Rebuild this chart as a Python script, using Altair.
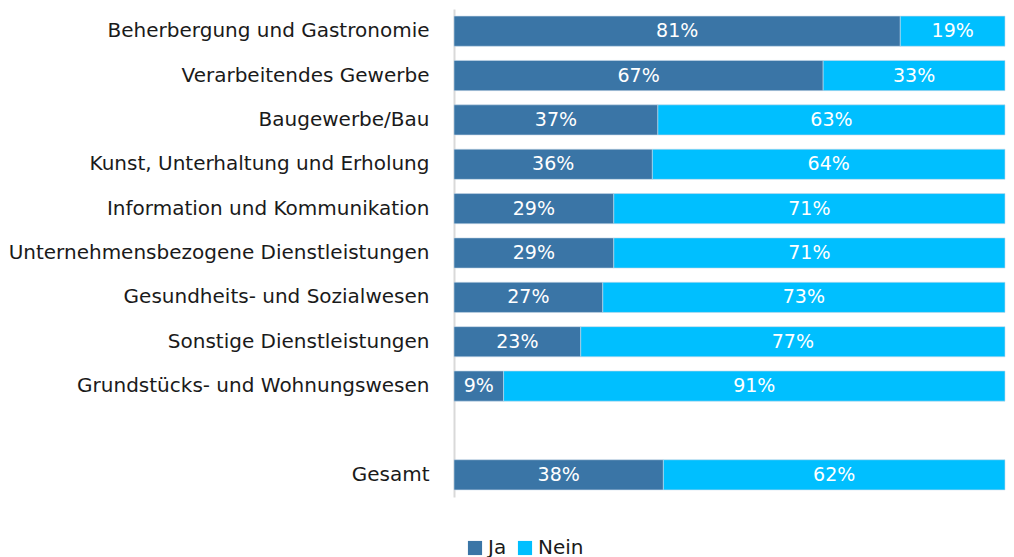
import altair as alt
import pandas as pd

categories = [
    "Beherbergung und Gastronomie",
    "Verarbeitendes Gewerbe",
    "Baugewerbe/Bau",
    "Kunst, Unterhaltung und Erholung",
    "Information und Kommunikation",
    "Unternehmensbezogene Dienstleistungen",
    "Gesundheits- und Sozialwesen",
    "Sonstige Dienstleistungen",
    "Grundstücks- und Wohnungswesen",
    "Gesamt",
]
ja = [81, 67, 37, 36, 29, 29, 27, 23, 9, 38]
nein = [19, 33, 63, 64, 71, 71, 73, 77, 91, 62]
series = ["Ja", "Nein"]
colors = ["#3A75A6", "#00BFFF"]

rows = []
for c, j, n in zip(categories, ja, nein):
    rows.append({"cat": c, "series": "Ja", "start": 0, "end": j, "val": j})
    rows.append({"cat": c, "series": "Nein", "start": j, "end": j + n, "val": n})
df = pd.DataFrame(rows)
df["mid"] = (df["start"] + df["end"]) / 2
df["label"] = df["val"].astype(str) + "%"

domain = categories[:9] + [" "] + categories[9:]

FONT = "DejaVu Sans"
FS = 20

y = alt.Y("cat:N", scale=alt.Scale(domain=domain, paddingInner=0.32, paddingOuter=0.16),
          axis=alt.Axis(title=None, labelFontSize=FS, labelColor="#1a1a1a", labelFont=FONT,
                        ticks=False, labelPadding=25, domainColor="#d9d9d9", domainWidth=2,
                        labelLimit=500))

bars = alt.Chart(df).mark_bar(stroke="#c8d8e8", strokeWidth=0.6).encode(
    y=y,
    x=alt.X("start:Q", scale=alt.Scale(domain=[0, 100], nice=False), axis=None),
    x2="end:Q",
    color=alt.Color("series:N", scale=alt.Scale(domain=series, range=colors),
                    legend=alt.Legend(title=None, orient="none", legendX=11, legendY=529,
                                      direction="horizontal", symbolType="square",
                                      symbolSize=200, symbolStrokeWidth=0,
                                      labelFontSize=FS, labelFont=FONT, labelColor="#1a1a1a",
                                      columnPadding=8, labelOffset=3)),
)

text = alt.Chart(df).mark_text(color="white", fontSize=FS - 1, font=FONT).encode(
    y=alt.Y("cat:N", scale=alt.Scale(domain=domain)),
    x=alt.X("mid:Q"),
    text="label:N",
)

chart = (bars + text).properties(
    width=551, height=488,
    padding={"left": 0, "top": 1, "right": 0, "bottom": 0},
).configure(font=FONT).configure_view(stroke=None)

chart.save("out.html", embed_options={"renderer": "svg", "actions": False})
